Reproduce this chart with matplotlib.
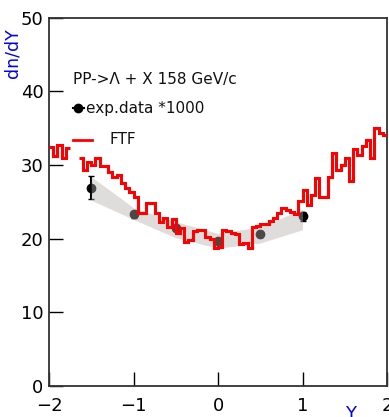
import numpy as np
import matplotlib
matplotlib.use('Agg')
import matplotlib.pyplot as plt
from matplotlib.lines import Line2D

# FTF histogram, 80 bins of 0.05 from -2 to 2 (nan = hidden behind legend)
bin_edges = np.round(np.arange(-2.0, 2.0001, 0.05), 3)
ftf = [32.4, 31.2, 32.7, 31.0, 32.3, np.nan, np.nan, 30.9, 29.3, 30.4,
       30.0, 30.9, 29.8, 29.9, 29.0, 28.3, 28.6, 27.5, 26.9, 26.3,
       25.7, 23.5, 23.5, 24.8, 24.8, 23.5, 22.3, 22.8, 21.6, 22.6,
       20.7, 21.5, 19.6, 19.8, 21.0, 21.2, 21.2, 20.2, 20.0, 18.7,
       18.9, 21.1, 21.0, 20.7, 20.6, 19.3, 19.4, 18.7, 21.6, 21.7,
       22.0, 22.0, 22.4, 22.8, 23.5, 24.1, 23.9, 23.6, 23.4, 25.1,
       26.6, 24.6, 25.9, 28.2, 25.7, 25.7, 28.4, 31.6, 29.3, 30.0,
       30.9, 27.8, 32.1, 31.4, 32.5, 33.4, 30.9, 35.0, 34.3, 34.0]

# experimental points (x1000)
exp_y = [-1.5, -1.0, -0.5, 0.0, 0.5, 1.0]
exp_val = [26.9, 23.3, 21.4, 19.7, 20.6, 23.0]
exp_err = [1.55, 0.5, 0.4, 0.4, 0.4, 0.6]
# systematic band
band_hi = [28.4, 24.2, 22.3, 20.7, 21.6, 24.0]
band_lo = [25.2, 22.6, 20.1, 18.7, 19.4, 21.2]

W, H = 389, 417
fig = plt.figure(figsize=(W/100, H/100), dpi=100)
ax = fig.add_axes([49/W, 1-386/H, 338/W, 368.5/H])

ax.errorbar(exp_y, exp_val, yerr=exp_err, fmt='o', color='black', ms=6,
            capsize=2, elinewidth=1.5, zorder=2)
ax.fill_between(exp_y, band_lo, band_hi, color=(0.7, 0.69, 0.67), alpha=0.42,
                lw=0, zorder=3)
ax.stairs(ftf, bin_edges, baseline=None, color='#ff0000', lw=2.2, zorder=4)

ax.set_xlim(-2, 2)
ax.set_ylim(0, 50)
ax.set_xticks([-2, -1, 0, 1, 2])
ax.set_yticks([0, 10, 20, 30, 40, 50])
ax.tick_params(direction='in', length=10, width=1, labelsize=13)
ax.tick_params(axis='x', pad=8)
ax.tick_params(axis='y', pad=4)
for s in ax.spines.values():
    s.set_linewidth(1.3)
    s.set_color('#333333')

fig.text(12/W, 1-28/H, 'dn/dY', rotation=90, color='#0000f0', fontsize=12.5,
         ha='center', va='top')
fig.text(351/W, 1-405/H, 'Y', color='#0000f0', fontsize=13, ha='center', va='top')

# legend
tr = ax.transAxes
ax.text(0.071, 0.833, 'PP->\u039b + X 158 GeV/c', transform=tr, fontsize=11,
        va='center', color='#111111')
ax.add_line(Line2D([0.071, 0.103], [0.754, 0.754], transform=tr, color='black', lw=1.5))
ax.add_line(Line2D([0.087], [0.754], transform=tr, color='black', marker='o', ms=6))
ax.text(0.108, 0.754, 'exp.data *1000', transform=tr, fontsize=11, va='center',
        color='#111111')
ax.add_line(Line2D([0.071, 0.127], [0.668, 0.668], transform=tr, color='#ff0000', lw=2))
ax.text(0.18, 0.668, 'FTF', transform=tr, fontsize=11, va='center', color='#111111')

fig.savefig('out.png', dpi=100)
